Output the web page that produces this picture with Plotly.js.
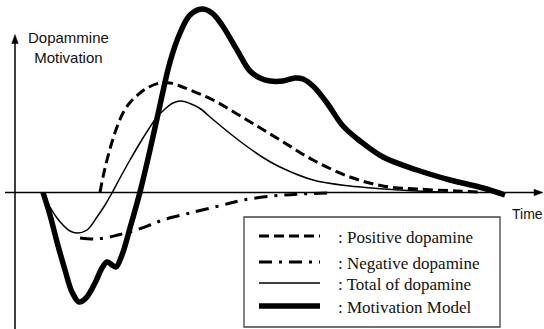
<!DOCTYPE html>
<html>
<head>
<meta charset="utf-8">
<script src="https://cdn.plot.ly/plotly-3.0.1.min.js"></script>
<style>html,body{margin:0;padding:0;background:#fff;}#chart{width:544px;height:329px;}</style>
</head>
<body>
<div id="chart"></div>
<script>
// Time values and curve values (value 0 = time axis)
const motivationT = [28,35,42,50,57,64,71,80,87,92,97,101,107,115,125,135,145,155,165,175,187,197,207,222,235,245,255,268,280,288,298,312,328,345,368,402,435,468,490];
const motivationV = [0,-22.5,-49.5,-77.5,-99.5,-109.5,-105.5,-90.5,-75.5,-69.5,-72.5,-74.5,-62.5,-35.5,0.5,42.5,87.5,130.5,159.5,177.5,183.5,179.5,167.5,142.5,121.5,114.5,111.5,111.5,114.5,113.5,106.5,89.5,66.5,51.5,35.5,22.5,12.5,4.5,-2.5];

const positiveT = [85,88,92,97,102,108,115,125,134,145,155,165,175,198,232,265,298,335,368,402,442,465];
const positiveV = [0,15.5,32.5,50.5,65.5,79.5,90,99.5,105.5,109.5,109.5,106.5,102.5,92.5,72.5,52.5,32.5,15.5,6.5,3.5,1.5,0.5];

const totalT = [28,35,42,48,55,62,72,82,90,97,105,115,128,142,150,158,166,175,185,198,215,232,248,265,298,335,385,425];
const totalV = [0,-14.5,-25.5,-32.5,-38.5,-40.5,-37.5,-24.5,-12.5,-0.5,14.5,32.5,54.5,75.5,83.5,89.5,91.5,89,84,73,59,46,35,25.5,12.5,6.5,2.5,0.5];

const negativeT = [65,80,95,103,118,135,148,175,208,228,258,285,315];
const negativeV = [-45.5,-46.5,-44.5,-42.5,-38.5,-32.5,-27.5,-20.5,-12.5,-7.5,-3.5,-1.5,-0.5];

const legendLabels = [': Positive dopamine', ': Negative dopamine', ': Total of dopamine', ': Motivation Model'];
const axisLabels = {y: 'Dopammine<br>Motivation', x: 'Time'};

const styles = [
  {dash: '10px,5px', width: 3},
  {dash: '13px,7px,3px,7px', width: 3},
  {dash: 'solid', width: 1.5},
  {dash: 'solid', width: 5.5}
];

const traces = [
  {x: negativeT, y: negativeV, line: styles[1]},
  {x: positiveT, y: positiveV, line: styles[0]},
  {x: totalT, y: totalV, line: styles[2]},
  {x: motivationT, y: motivationV, line: styles[3]}
].map(t => ({
  x: t.x, y: t.y, type: 'scatter', mode: 'lines', hoverinfo: 'skip',
  line: {color: '#000', width: t.line.width, dash: t.line.dash, shape: 'spline', smoothing: 1}
}));

const ink = '#000';
const shapes = [
  // axes
  {type: 'line', xref: 'x', yref: 'y', x0: 0, x1: 0, y0: -137, y1: 150, line: {color: ink, width: 1.5}, layer: 'below'},
  {type: 'path', xref: 'x', yref: 'y', path: 'M0,158 L-3.2,149 L3.2,149 Z', fillcolor: ink, line: {color: ink, width: 0.5}},
  {type: 'line', xref: 'x', yref: 'y', x0: -10, x1: 521, y0: 0, y1: 0, line: {color: ink, width: 1.5}, layer: 'below'},
  {type: 'path', xref: 'x', yref: 'y', path: 'M528,0 L519,3.2 L519,-3.2 Z', fillcolor: ink, line: {color: ink, width: 0.5}},
  // legend box
  {type: 'rect', xref: 'x', yref: 'y', x0: 229, x1: 485, y0: -24.5, y1: -134.5, fillcolor: '#fff', line: {color: '#444', width: 1.3}}
];
const rowsV = [-43.5, -69.5, -90.5, -113.5];
rowsV.forEach((v, i) => {
  shapes.push({type: 'line', xref: 'x', yref: 'y', x0: 244, x1: 305, y0: v, y1: v,
    line: {color: ink, width: styles[i].width, dash: styles[i].dash}});
});

const annotations = legendLabels.map((txt, i) => ({
  x: 321, y: rowsV[i] - 1, xref: 'x', yref: 'y', text: txt, showarrow: false,
  xanchor: 'left', yanchor: 'middle',
  font: {family: 'Liberation Serif, serif', size: 17, color: '#111'}
}));
annotations.push({x: 53, y: 145, xref: 'x', yref: 'y', text: axisLabels.y, showarrow: false,
  xanchor: 'center', yanchor: 'middle', align: 'center',
  font: {family: 'Liberation Sans, Arial, sans-serif', size: 15, color: '#111'}});
annotations.push({x: 512.5, y: -21.5, xref: 'x', yref: 'y', text: axisLabels.x, showarrow: false,
  xanchor: 'center', yanchor: 'middle',
  font: {family: 'Liberation Sans, Arial, sans-serif', size: 14, color: '#111'}});

const layout = {
  width: 544, height: 329,
  margin: {l: 0, r: 0, t: 0, b: 0, pad: 0},
  paper_bgcolor: '#fff', plot_bgcolor: '#fff',
  showlegend: false,
  xaxis: {range: [-15, 529], visible: false, fixedrange: true},
  yaxis: {range: [-136.5, 192.5], visible: false, fixedrange: true},
  shapes: shapes,
  annotations: annotations
};

Plotly.newPlot('chart', traces, layout, {displayModeBar: false, staticPlot: true});
</script>
</body>
</html>
